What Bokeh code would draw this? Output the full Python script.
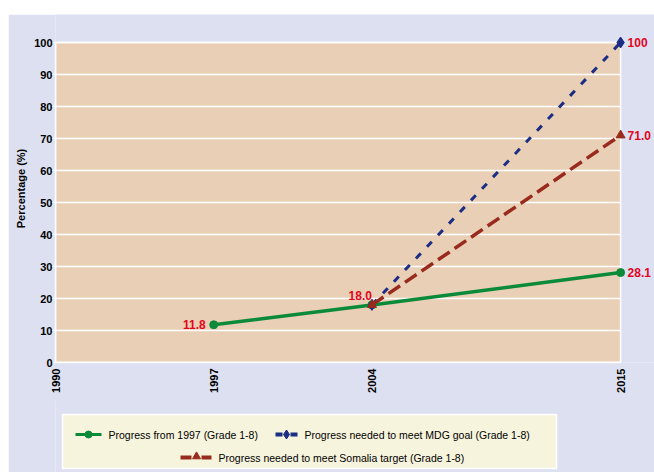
import math
from bokeh.plotting import figure
from bokeh.models import Range1d, FixedTicker, Div
from bokeh.layouts import column
from bokeh.core.properties import value
from bokeh.embed import file_html
from bokeh.resources import INLINE

# ---- data ----
years_green = [1997, 2004, 2015]
vals_green = [11.8, 18.0, 28.1]
labels_green = ["11.8", "18.0", "28.1"]
years_mdg = [2004, 2015]
vals_mdg = [18.0, 100]
labels_mdg = ["18.0", "100"]
years_som = [2004, 2015]
vals_som = [18.0, 71.0]
labels_som = ["18.0", "71.0"]
x_ticks = [1990, 1997, 2004, 2015]
y_ticks = list(range(0, 101, 10))
legend_names = ["Progress from 1997 (Grade 1-8)",
                "Progress needed to meet MDG goal (Grade 1-8)",
                "Progress needed to meet Somalia target (Grade 1-8)"]

LAV = "#dde0f1"
TAN = "#e9cfb5"
GREEN = "#0b8a3a"
BLUE = "#1b2d84"
DRED = "#992a1e"
RED = "#e3051b"
FONT = "Liberation Sans"
W = 646

spacer = Div(text="", width=654, height=14, margin=(0, 0, 0, 0))

p = figure(width=W, height=387, output_backend="svg", toolbar_location=None,
           x_range=Range1d(1990, 2016.5), y_range=Range1d(0, 108.75),
           min_border_left=47, min_border_right=0, min_border_top=0,
           min_border_bottom=39, margin=(0, 0, 0, 8))
p.background_fill_color = LAV
p.border_fill_color = LAV
p.outline_line_color = None
p.grid.visible = False

# plotting area
p.quad(left=x_ticks[0], right=x_ticks[-1], bottom=y_ticks[0], top=y_ticks[-1],
       fill_color=TAN, line_color="white", line_width=1.5)
p.segment(x0=[x_ticks[0]] * len(y_ticks), x1=[x_ticks[-1]] * len(y_ticks),
          y0=y_ticks, y1=y_ticks, line_color="white", line_width=1.5)

# series
p.line(years_green, vals_green, line_color=GREEN, line_width=3.5)
p.scatter(years_green, vals_green, marker="circle", size=8, fill_color=GREEN, line_color=GREEN)
p.line(years_mdg, vals_mdg, line_color=BLUE, line_width=3, line_dash="7 9")
p.scatter(years_mdg, vals_mdg, marker="diamond", size=11, fill_color=BLUE, line_color=BLUE)
p.line(years_som, vals_som, line_color=DRED, line_width=3.5, line_dash="14 6")
p.scatter(years_som, vals_som, marker="triangle", size=9, fill_color=DRED, line_color=DRED)

# data labels
lab_kw = dict(text_color=RED, text_font=value(FONT), text_font_style="bold",
              text_font_size="12px", text_baseline="middle")
p.text(x=[years_green[0]], y=[vals_green[0]], text=[labels_green[0]],
       text_align="right", x_offset=-8, y_offset=0, **lab_kw)
p.text(x=[years_green[1]], y=[vals_green[1]], text=[labels_green[1]],
       text_align="right", x_offset=0, y_offset=-9, **lab_kw)
p.text(x=[years_green[2], years_mdg[1], years_som[1]],
       y=[vals_green[2], vals_mdg[1], vals_som[1]],
       text=[labels_green[2], labels_mdg[1], labels_som[1]],
       text_align="left", x_offset=7, y_offset=0, **lab_kw)

# axes
for ax in (p.xaxis[0], p.yaxis[0]):
    ax.axis_line_color = "white"
    ax.axis_line_width = 1.5
    ax.major_tick_line_color = "white"
    ax.major_tick_line_width = 1.5
    ax.major_tick_in = 0
    ax.major_tick_out = 3
    ax.minor_tick_line_color = None
    ax.major_label_text_font = FONT
    ax.major_label_text_font_style = "bold"
    ax.major_label_text_font_size = "11px"
    ax.major_label_text_color = "black"
p.xaxis.ticker = FixedTicker(ticks=x_ticks)
p.xaxis.bounds = (x_ticks[0], x_ticks[-1])
p.xaxis.major_label_orientation = math.pi / 2
p.xaxis.major_tick_out = 0
p.xaxis.major_label_standoff = 6
p.yaxis.ticker = FixedTicker(ticks=y_ticks)
p.yaxis.bounds = (y_ticks[0], y_ticks[-1])
p.yaxis.major_label_standoff = 0
p.yaxis.axis_label = "Percentage (%)"
p.yaxis.axis_label_text_font = FONT
p.yaxis.axis_label_text_font_style = "bold"
p.yaxis.axis_label_text_font_size = "11px"
p.yaxis.axis_label_text_color = "black"
p.yaxis.axis_label_standoff = 4

# legend panel (same side borders as the main figure so frames line up)
lg = figure(width=W, height=72, output_backend="svg", toolbar_location=None,
            x_range=Range1d(0, W - 47), y_range=Range1d(0, 72),
            x_axis_location=None, y_axis_location=None,
            min_border_left=47, min_border_right=0, min_border_top=0,
            min_border_bottom=0, margin=(-1, 0, 0, 8))
lg.border_fill_color = LAV
lg.background_fill_color = LAV
lg.outline_line_color = None
lg.grid.visible = False

lg.quad(left=[7], right=[501], bottom=[4], top=[58], fill_color="#f7f4dd",
        line_color="white", line_width=1.5)
# legend samples
lg.segment(x0=[20], x1=[46], y0=[38], y1=[38], line_color=GREEN, line_width=3)
lg.scatter([33], [38], marker="circle", size=7, fill_color=GREEN, line_color=GREEN)
lg.segment(x0=[220, 235], x1=[227, 242], y0=[38, 38], y1=[38, 38], line_color=BLUE, line_width=4)
lg.scatter([231], [38], marker="diamond", size=9, fill_color=BLUE, line_color=BLUE)
lg.segment(x0=[125, 146], x1=[136, 156], y0=[15, 15], y1=[15, 15], line_color=DRED, line_width=4)
lg.scatter([141], [16], marker="triangle", size=8, fill_color=DRED, line_color=DRED)
lg.text(x=[53, 249, 163], y=[38, 38, 15], text=legend_names,
        text_font=value(FONT), text_font_size="10.5px", text_color="black",
        text_baseline="middle", text_align="left")

layout = column(spacer, p, lg)
open("out.html", "w").write(file_html(layout, INLINE))
